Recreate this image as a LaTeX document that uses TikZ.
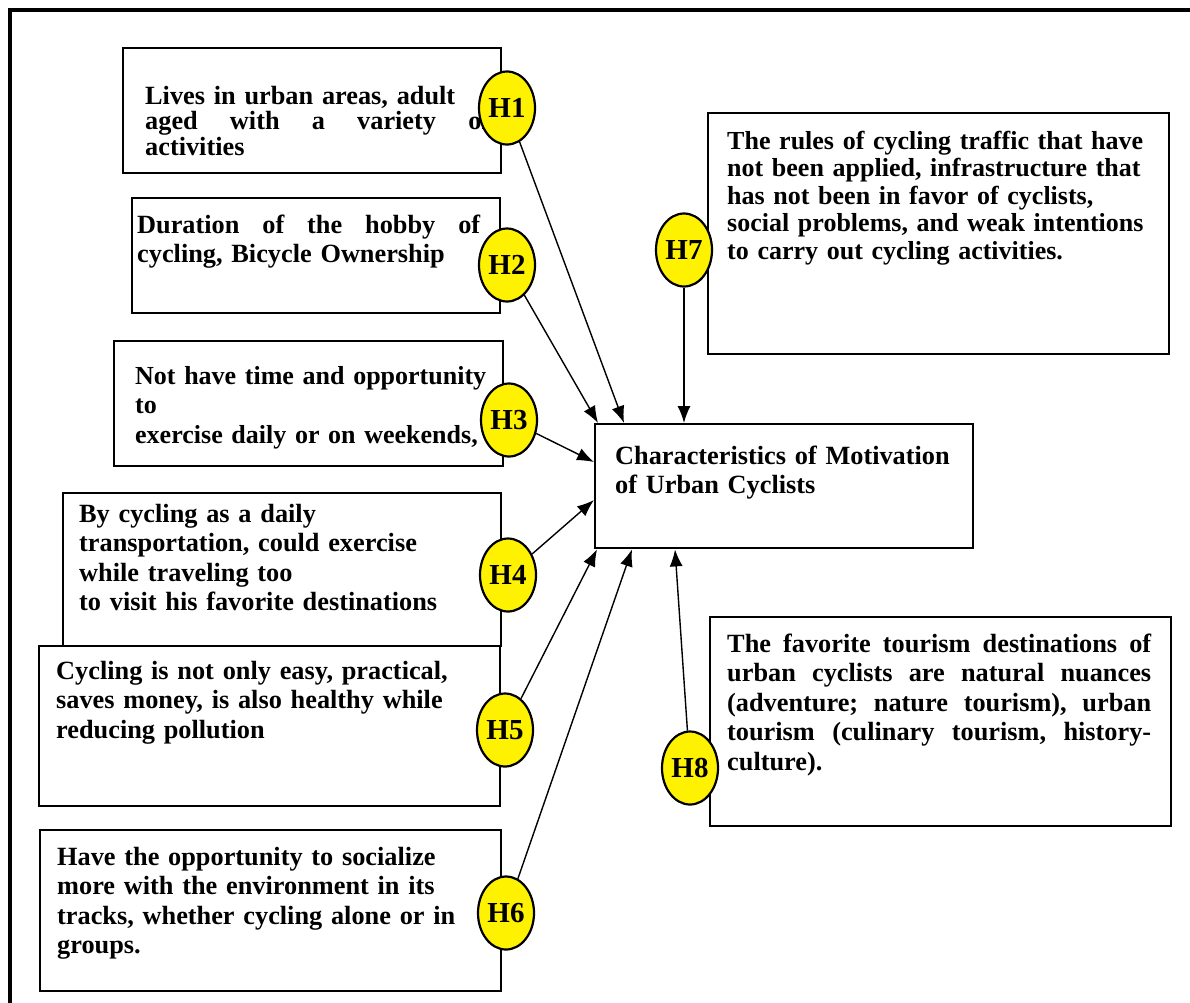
\documentclass[tikz,border=0pt]{standalone}
\usepackage{fontspec}
\setmainfont{Liberation Serif}
\usetikzlibrary{shapes.geometric,arrows.meta,calc}
\begin{document}
\begin{tikzpicture}[x=1pt,y=-1pt,
  box/.style={draw,line width=2.4pt,fill=white,inner sep=0pt,anchor=north west},
  hyp/.style={ellipse,draw,line width=2.2pt,fill=yellow,minimum width=56pt,minimum height=73pt,inner sep=0pt,font=\fontsize{29}{30}\selectfont\bfseries},
  txt/.style={anchor=base west,inner sep=0pt,text width=460pt,font=\fontsize{26.3}{29.5}\selectfont\bfseries},
  arr/.style={line width=1.4pt,-{Latex[length=17pt,width=13pt]}}]
\useasboundingbox (0,0) rectangle (1190,1002);
\fill[white] (0,0) rectangle (1190,1002);
\draw[line width=4pt] (10,1010) -- (10,10) -- (1200,10);
% boxes
\node[box,minimum width=378pt,minimum height=125pt] (b1) at (122,47) {};
\node[box,minimum width=368pt,minimum height=115pt] (b2) at (131,197) {};
\node[box,minimum width=389pt,minimum height=125pt] (b3) at (113,340) {};
\node[box,minimum width=438pt,minimum height=153pt] (b4) at (62,492) {};
\node[box,minimum width=461pt,minimum height=160pt] (b5) at (38,645) {};
\node[box,minimum width=461pt,minimum height=161pt] (b6) at (39,829) {};
\node[box,minimum width=378pt,minimum height=124pt] (c) at (594,423) {};
\node[box,minimum width=461pt,minimum height=241pt] (b7) at (707,112) {};
\node[box,minimum width=461pt,minimum height=209pt] (b8) at (709,616) {};
% texts
\node[txt,text width=345pt,font=\fontsize{26.3}{25.5}\selectfont\bfseries] (x1) at (145,104) {Lives in urban areas, adult\\\makebox[345pt][l]{aged\hfill with\hfill a\hfill variety\hfill of}\\activities};
\node[txt,text width=343pt] (x2) at (137,233) {\makebox[343pt][l]{Duration\hfill of\hfill the\hfill hobby\hfill of}\\cycling, Bicycle Ownership};
\node[txt,font=\fontsize{26}{29.5}\selectfont\bfseries] (x3) at (135,384) {Not have time and opportunity\\to\\exercise daily or on weekends,};
\node[txt] (x4) at (79,522) {By cycling as a daily\\transportation, could exercise\\while traveling too\\to visit his favorite destinations};
\node[txt] (x5) at (56,679) {Cycling is not only easy, practical,\\saves money, is also healthy while\\reducing pollution};
\node[txt] (x6) at (57,865) {Have the opportunity to socialize\\more with the environment in its\\tracks, whether cycling alone or in\\groups.};
\node[txt] (xc) at (615,464) {Characteristics of Motivation\\of Urban Cyclists};
\node[txt,font=\fontsize{26}{27.5}\selectfont\bfseries] (x7) at (727,149) {The rules of cycling traffic that have\\not been applied, infrastructure that\\has not been in favor of cyclists,\\social problems, and weak intentions\\to carry out cycling activities.};
\node[txt,text width=424pt] (x8) at (727,652) {\makebox[424pt][l]{The\hfill favorite\hfill tourism\hfill destinations\hfill of}\\\makebox[424pt][l]{urban\hfill cyclists\hfill are\hfill natural\hfill nuances}\\\makebox[424pt][l]{(adventure;\hfill nature\hfill tourism),\hfill urban}\\\makebox[424pt][l]{tourism\hfill (culinary\hfill tourism,\hfill history-}\\culture).};
% hypothesis ellipses
\node[hyp] (h1) at (507,108) {H1};
\node[hyp] (h2) at (507,265) {H2};
\node[hyp] (h3) at (509,420) {H3};
\node[hyp] (h4) at (508,575) {H4};
\node[hyp] (h5) at (505,730) {H5};
\node[hyp] (h6) at (506,913) {H6};
\node[hyp] (h7) at (684,250) {H7};
\node[hyp] (h8) at (690,768) {H8};
% arrow tips on the central box
\coordinate (t1) at ($(c.north west)+(30,0)$);
\coordinate (t2) at ($(c.north west)+(4,0)$);
\coordinate (t3) at ($(c.north west)+(0,39)$);
\coordinate (t4) at ($(c.north west)+(0,77)$);
\coordinate (t5) at ($(c.south west)+(3,0)$);
\coordinate (t6) at ($(c.south west)+(38,0)$);
\coordinate (t7) at ($(c.north west)+(90,0)$);
\coordinate (t8) at ($(c.south west)+(81,0)$);
\draw[arr] (h1) -- (t1);
\draw[arr] (h2) -- (t2);
\draw[arr] (h3) -- (t3);
\draw[arr] (h4) -- (t4);
\draw[arr] (h5) -- (t5);
\draw[arr] (h6) -- (t6);
\draw[arr] (h7) -- (t7);
\draw[arr] (h8) -- (t8);
\end{tikzpicture}
\end{document}
